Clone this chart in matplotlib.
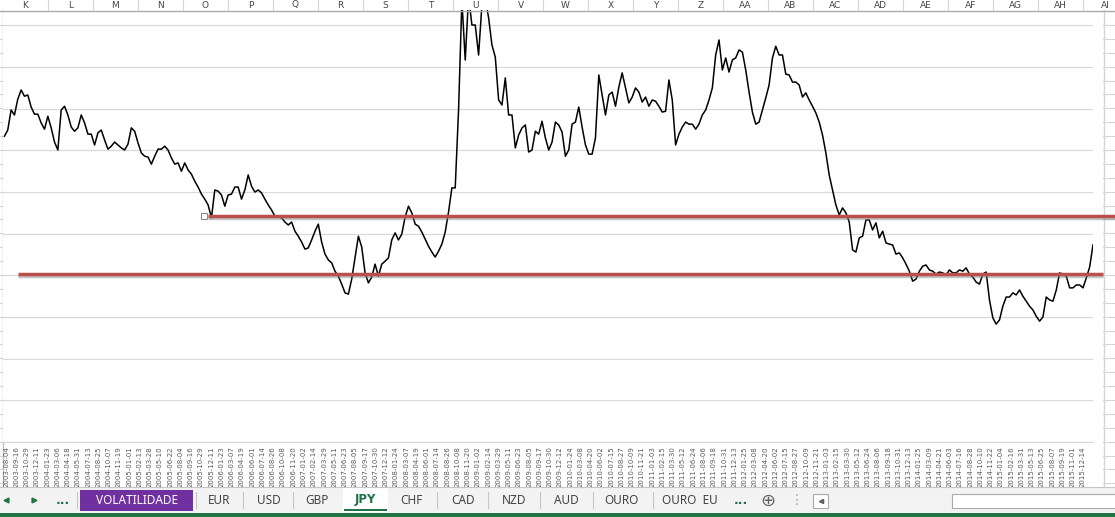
import numpy as np
import pandas as pd
import matplotlib
matplotlib.use("Agg")
import matplotlib.pyplot as plt
import matplotlib.patheffects as pe
from matplotlib.patches import Rectangle

W, H = 1115, 517

# JPY series, one value every 14 days starting 2003-07-28
jpy = [
    73.4, 74.9, 79.7, 78.5, 82.3, 84.5, 83.0, 83.3, 80.4, 78.7,
    78.7, 76.6, 75.1, 78.2, 75.4, 72.0, 70.1, 79.7, 80.6, 78.5,
    75.6, 74.6, 75.4, 78.5, 76.6, 73.9, 73.9, 71.3, 74.2, 74.9,
    72.5, 70.3, 71.0, 72.0, 71.3, 70.6, 70.1, 71.5, 75.4, 74.6,
    71.8, 69.4, 68.6, 68.4, 66.7, 68.6, 70.3, 70.3, 71.0, 70.1,
    68.2, 66.7, 67.0, 65.0, 67.0, 65.3, 64.3, 62.6, 61.2, 59.5,
    58.3, 56.9, 53.8, 60.5, 60.2, 59.3, 56.6, 59.3, 59.5, 61.2,
    61.2, 58.3, 60.5, 64.1, 61.4, 60.0, 60.5, 59.8, 58.3, 56.9,
    55.7, 54.2, 54.0, 53.8, 52.8, 52.1, 52.8, 50.6, 49.4, 48.0,
    46.3, 46.6, 48.5, 50.6, 52.3, 48.0, 45.1, 43.7, 43.0, 41.0,
    39.8, 37.9, 35.8, 35.5, 39.1, 44.2, 49.4, 46.8, 40.6, 38.2,
    39.6, 42.7, 39.8, 42.7, 43.4, 44.2, 48.5, 50.2, 48.5, 49.9,
    54.0, 56.6, 55.0, 52.3, 51.8, 50.4, 48.7, 47.0, 45.6, 44.4,
    45.8, 47.5, 50.4, 55.2, 61.0, 61.0, 79.7, 106.0, 91.7, 107.0,
    100.1, 100.1, 92.9, 105.0, 106.5, 101.8, 95.3, 92.4, 82.1, 80.9,
    87.4, 78.5, 78.5, 70.6, 73.7, 75.4, 76.1, 69.6, 70.1, 74.6,
    73.9, 77.0, 73.0, 70.1, 72.0, 76.8, 76.1, 74.4, 68.6, 70.1,
    76.3, 76.8, 80.4, 75.6, 71.3, 69.1, 69.1, 73.0, 88.1, 83.3,
    78.5, 83.3, 84.0, 80.6, 85.2, 88.6, 85.0, 81.4, 82.8, 85.0,
    84.0, 81.6, 82.8, 80.6, 82.1, 81.8, 80.6, 79.2, 79.4, 86.9,
    82.1, 71.3, 73.9, 75.6, 76.8, 76.3, 76.3, 75.1, 76.3, 78.5,
    79.7, 82.1, 85.0, 92.9, 96.5, 89.3, 92.2, 88.8, 91.7, 92.2,
    94.1, 93.6, 89.3, 84.0, 79.2, 76.3, 76.8, 79.7, 82.6, 85.7,
    92.2, 95.0, 92.9, 92.9, 88.3, 88.1, 86.4, 86.4, 85.7, 82.8,
    83.8, 82.1, 80.6, 79.0, 76.8, 73.7, 69.4, 64.1, 60.5, 56.9,
    54.5, 56.2, 55.0, 52.8, 46.1, 45.6, 49.0, 49.4, 53.3, 53.3,
    50.9, 52.6, 49.0, 50.6, 47.8, 47.5, 47.3, 45.1, 45.4, 44.2,
    42.7, 41.0, 38.6, 39.1, 41.0, 42.2, 42.5, 41.3, 41.0, 40.3,
    40.8, 40.6, 40.1, 41.3, 40.6, 40.6, 41.3, 41.0, 41.8, 40.3,
    39.6, 38.4, 37.9, 40.3, 40.8, 34.1, 29.8, 28.3, 29.3, 32.6,
    34.8, 34.8, 35.8, 35.3, 36.5, 35.0, 33.8, 32.6, 31.7, 30.2,
    29.0, 30.0, 34.8, 34.1, 33.8, 36.5, 40.6, 40.3, 39.8, 37.0,
    37.0, 37.7, 37.7, 37.0, 39.4, 42.0, 47.3,
]
dates = pd.date_range("2003-07-28", periods=len(jpy), freq="14D")

# date axis labels, Excel major unit of 43 days
tick_dates = pd.date_range("2003-08-04", "2015-12-14", freq="43D")

# the two hand drawn support/resistance lines
upper_level = 54.2
lower_level = 40.3
upper_span = ["2005-11-28", "2016-05-10"]
lower_span = ["2003-09-23", "2016-03-07"]

columns = ["K", "L", "M", "N", "O", "P", "Q", "R", "S", "T", "U", "V", "W",
           "X", "Y", "Z", "AA", "AB", "AC", "AD", "AE", "AF", "AG", "AH", "AI"]
tabs = ["EUR", "USD", "GBP", "JPY", "CHF", "CAD", "NZD", "AUD", "OURO", "OURO  EU"]
tab_x = [219, 269, 317, 365, 411, 463, 514, 566, 621, 690]
tab_seps = [77, 196, 243, 293, 437, 488, 540, 593, 653]

green = "#217346"
grid_c = "#D9D9D9"

fig = plt.figure(figsize=(W / 100, H / 100), dpi=100)

# background layer: sheet row lines left and right of the chart
bg = fig.add_axes([0, 0, 1, 1], zorder=0)
bg.set_xlim(0, W)
bg.set_ylim(H, 0)
bg.axis("off")
for y in np.arange(11.1, 487, 13.89):
    bg.plot([0, 3], [y, y], color="#D4D4D4", lw=0.8)
    bg.plot([1103, W], [y, y], color="#D4D4D4", lw=0.8)
bg.plot([3.3, 3.3], [10, 487], color="#BDBDBD", lw=1)
bg.plot([1103.5, 1103.5], [10, 487], color="#D4D4D4", lw=1)

# chart
ax = fig.add_axes([3 / W, (H - 442) / H, 1090 / W, 432 / H], zorder=1)
ax.plot(dates, jpy, color="black", lw=1.1)
ax.set_xlim(pd.Timestamp("2003-07-22"), dates[-1])
ax.set_ylim(0, 103.7)
ax.set_yticks(range(0, 101, 10))
ax.yaxis.grid(True, color=grid_c, lw=0.9)
ax.tick_params(axis="y", length=0, labelleft=False)
ax.set_xticks(tick_dates)
ax.set_xticklabels([d.strftime("%Y-%m-%d") for d in tick_dates],
                   rotation=90, fontsize=5, color="#595959")
ax.tick_params(axis="x", length=0, pad=3)
for s in ["top", "right", "left"]:
    ax.spines[s].set_visible(False)
ax.spines["bottom"].set_color(grid_c)
ax.set_axisbelow(True)

shadow = [pe.SimpleLineShadow(offset=(0, -1.5), shadow_color="#7F7F7F", alpha=0.45), pe.Normal()]
ax.plot(pd.to_datetime(upper_span), [upper_level] * 2, color="#B9504C", lw=2.5,
        clip_on=False, path_effects=shadow, solid_capstyle="butt")
ax.plot(pd.to_datetime(lower_span), [lower_level] * 2, color="#B9504C", lw=2.5,
        clip_on=False, path_effects=shadow, solid_capstyle="butt")

# foreground layer: column header and sheet tab bar
fg = fig.add_axes([0, 0, 1, 1], zorder=2)
fg.set_xlim(0, W)
fg.set_ylim(H, 0)
fg.axis("off")
fg.patch.set_alpha(0)

# selection handle of the upper line
fg.plot([204], [216], marker="s", ms=4.5, mfc="white", mec="#8C8C8C", mew=0.8)

fg.add_patch(Rectangle((0, 0), W, 10, fc="white", ec="none"))
fg.plot([0, W], [10.5, 10.5], color="#ABABAB", lw=1)
for i, c in enumerate(columns):
    fg.text(3 + 45 * i + 22.5, 5, c, ha="center", va="center", fontsize=6.5, color="#444444")
    if i > 0:
        fg.plot([3 + 45 * i] * 2, [0, 10], color="#D4D4D4", lw=0.8)

fg.add_patch(Rectangle((0, 487), W, 26, fc="#F3F3F3", ec="none"))
fg.plot([0, W], [487, 487], color="#C6C6C6", lw=0.8)
fg.add_patch(Rectangle((0, 512.5), W, 5, fc=green, ec="none"))

fg.plot([6], [500], marker="<", ms=3.5, color=green)
fg.plot([34], [500], marker=">", ms=3.5, color=green)
fg.text(63, 500, "...", ha="center", va="center", fontsize=9, color=green, weight="bold")

for x in tab_seps:
    fg.plot([x, x], [492, 508], color="#C6C6C6", lw=0.8)

fg.add_patch(Rectangle((80, 490), 113, 21, fc="#7030A0", ec="none"))
fg.text(136.5, 500.5, "VOLATILIDADE", ha="center", va="center", fontsize=8.5,
        color="white", family="Noto Sans")

fg.add_patch(Rectangle((343, 487.5), 45, 24, fc="white", ec="none"))
fg.add_patch(Rectangle((344, 508.5), 43, 2.5, fc=green, ec="none"))
for name, x in zip(tabs, tab_x):
    if name == "JPY":
        fg.text(x, 500, name, ha="center", va="center", fontsize=8.5, color=green,
                weight="bold", family="DejaVu Sans")
    else:
        fg.text(x, 500.5, name, ha="center", va="center", fontsize=8.5, color="#444444",
                family="Noto Sans")

fg.text(741, 500, "...", ha="center", va="center", fontsize=9, color=green, weight="bold")
fg.text(768, 500.5, "\u2295", ha="center", va="center", fontsize=13, color="#666666")
fg.text(797, 500, "\u22ee", ha="center", va="center", fontsize=10, color="#AAAAAA")

# horizontal scroll bar
fg.add_patch(Rectangle((813, 494), 15, 14, fc="white", ec="#ABABAB", lw=0.8))
fg.plot([820.5], [501], marker="<", ms=3, color="#606060")
fg.add_patch(Rectangle((952, 494), 170, 14, fc="white", ec="#ABABAB", lw=0.8))

fig.savefig("out.png", dpi=100)
